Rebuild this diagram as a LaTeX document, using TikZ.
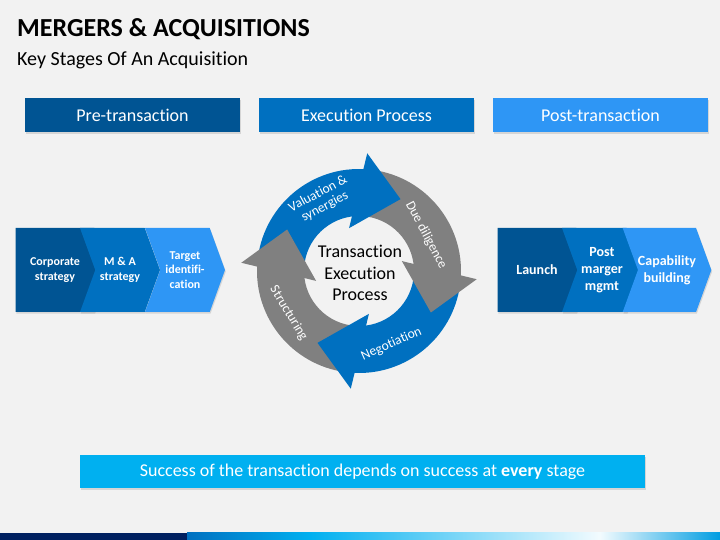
\documentclass[tikz,border=0pt]{standalone}
\usepackage{fontspec}
\setmainfont[Ligatures=NoCommon]{Carlito}
\usetikzlibrary{positioning,shapes.symbols,shadows}

\definecolor{bgGrey}{RGB}{242,242,242}
\definecolor{darkBlue}{RGB}{0,84,147}
\definecolor{midBlue}{RGB}{0,112,192}
\definecolor{lightBlue}{RGB}{46,150,245}
\definecolor{skyBlue}{RGB}{0,176,240}
\definecolor{ringGrey}{RGB}{128,128,128}
\definecolor{navyBar}{RGB}{0,32,96}

\begin{document}
\begin{tikzpicture}[x=1pt, y=1pt, node distance=65pt, on grid,
    boxshadow/.style={drop shadow={opacity=0.25, shadow xshift=0.8pt, shadow yshift=-1.6pt}},
    header/.style={minimum width=215pt, minimum height=34pt, inner sep=0pt, text=white,
        font=\fontsize{18}{21}\selectfont, boxshadow},
    chev/.style={signal, signal to=east, signal pointer angle=140, minimum width=94pt,
        minimum height=84pt, inner sep=0pt, text=white, align=center, boxshadow},
    chevin/.style={chev, signal from=west, minimum width=80pt},
    ringlabel/.style={text=white, align=center, font=\fontsize{13.5}{14.5}\selectfont}]

    \useasboundingbox[fill=bgGrey] (0,0) rectangle (720,540);

    % title
    \node[anchor=base west, inner sep=0pt, font=\bfseries\fontsize{26}{30}\selectfont] (title)
        at (17,503) {MERGERS \& ACQUISITIONS};
    \node[anchor=base west, inner sep=0pt, font=\fontsize{20}{24}\selectfont] (subtitle)
        at (17,474) {Key Stages Of An Acquisition};

    % stage headers
    \node[header, fill=darkBlue] (pre) at (132.5,425) {Pre-transaction};
    \node[header, fill=midBlue] (exec) [right=234pt of pre] {Execution Process};
    \node[header, fill=lightBlue] (post) [right=234pt of exec] {Post-transaction};

    % pre-transaction chevrons
    \begin{scope}[font=\bfseries\fontsize{12}{14.5}\selectfont]
        \node[chev, fill=darkBlue] (corp) at (55,270) {Corporate\\strategy};
        \node[chevin, fill=midBlue] (mna) [right=of corp] {M \& A\\strategy};
        \node[chevin, fill=lightBlue] (target) [right=of mna] {Target\\identifi-\\cation};
    \end{scope}

    % post-transaction chevrons
    \begin{scope}[font=\bfseries\fontsize{14}{17}\selectfont]
        \node[chev, fill=darkBlue] (launch) at (537,270) {Launch};
        \node[chevin, fill=midBlue] (pmm) [right=of launch] {Post\\marger\\mgmt};
        \node[chevin, fill=lightBlue] (capab) [right=of pmm] {Capability\\building};
    \end{scope}

    % execution cycle
    \begin{scope}[shift={(359,269)}]
        \foreach \tip/\col in {60/midBlue, -30/ringGrey, -120/midBlue, -210/ringGrey}
            \fill[\col] (\tip+112:102) arc[start angle=\tip+112, end angle=\tip+26, radius=102]
                -- (\tip+26:55) arc[start angle=\tip+26, end angle=\tip+112, radius=55] -- cycle;
        \foreach \tip/\col in {60/midBlue, -30/ringGrey, -120/midBlue, -210/ringGrey}
            \fill[\col] (\tip:83) -- (\tip+26:118) -- (\tip+43:44) -- cycle;

        \node[ringlabel, rotate=28] (valuation) at (118:80) {Valuation \&\\synergies};
        \node[ringlabel, rotate=-62] (diligence) at (28:76) {Due diligence};
        \node[ringlabel, rotate=24] (negotiation) at (-66:80) {Negotiation};
        \node[ringlabel, rotate=-59] (structuring) at (-149:82) {Structuring};

        \node[align=center, font=\fontsize{18}{21.5}\selectfont] (process) at (1,-2)
            {Transaction\\Execution\\Process};
    \end{scope}

    % bottom message
    \node[boxshadow, fill=skyBlue, text=white, minimum width=565pt, minimum height=33pt,
        inner sep=0pt, font=\fontsize{18}{21}\selectfont] (success) at (362.5,68.5)
        {Success of the transaction depends on success at \textbf{every} stage};

    % footer bar
    \fill[navyBar] (0,0) rectangle (187,7);
    \shade[left color=midBlue, right color=skyBlue] (187,0) rectangle (310,7);
    \shade[left color=skyBlue, right color=skyBlue!5] (310,0) rectangle (600,7);
    \shade[left color=skyBlue!5, right color=skyBlue!70!midBlue] (600,0) rectangle (720,7);

\end{tikzpicture}
\end{document}
